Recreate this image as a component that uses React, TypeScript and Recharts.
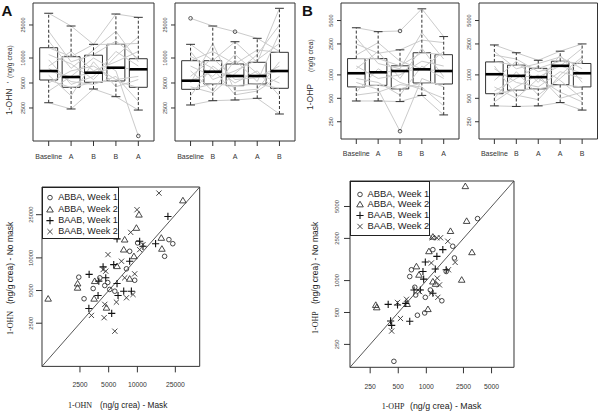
import React from 'react';
import {
  ComposedChart, ScatterChart, Scatter, Line, XAxis, YAxis,
  ReferenceArea, ReferenceLine, ReferenceDot, Legend,
} from 'recharts';

const FONT = "'Liberation Sans', Arial, sans-serif";
const SERIF = "'Liberation Serif', 'Times New Roman', serif";

// ---------- top row: box plots ----------
const ohnLabels1 = ['Baseline', 'A', 'B', 'B', 'A'];
const ohnLabels2 = ['Baseline', 'B', 'A', 'A', 'B'];
const ohpLabels1 = ['Baseline', 'A', 'B', 'B', 'A'];
const ohpLabels2 = ['Baseline', 'B', 'A', 'A', 'B'];

const ohnTicks = [2500, 5000, 10000, 25000];
const ohpTicks = [250, 500, 1000, 2500, 5000];

// [min, q1, median, q3, max]
const ohnBoxes1 = [
  [2890, 5430, 6970, 13300, 34600],
  [2430, 4435, 5900, 10370, 24300],
  [4235, 5100, 6650, 10800, 14620],
  [3420, 5285, 7640, 14620, 33900],
  [2360, 4435, 7310, 9800, 30900],
];
const ohnOutliers1 = [[5, 1150]];
const ohnSubjects1 = [
  [34600, 24300, 14600, 33900, 30900],
  [13300, 10400, 14600, 14600, 15000],
  [21000, 9000, 11000, 16000, 9800],
  [6970, 5900, 6650, 7640, 7310],
  [5430, 4400, 5100, 5300, 4400],
  [2890, 2430, 4240, 3420, 2360],
  [8000, 12000, 7000, 9000, 12000],
  [5000, 7000, 8000, 5500, 6000],
  [9500, 4800, 6000, 12000, 8000],
  [4000, 6000, 10000, 7000, 1150],
  [11000, 8500, 5500, 10500, 18000],
  [6200, 3500, 9000, 4500, 5500],
  [16000, 7500, 12500, 21000, 9000],
  [7500, 5200, 4800, 6000, 3000],
];

const ohnBoxes2 = [
  [2715, 4195, 5330, 9280, 14620],
  [3060, 4860, 6840, 9280, 24300],
  [3120, 4640, 6070, 8470, 15710],
  [3270, 4860, 6070, 8880, 17270],
  [2115, 4315, 6970, 11710, 39700],
];
const ohnOutliers2 = [[1, 30090], [3, 20750]];
const ohnSubjects2 = [
  [30090, 24300, 20750, 17270, 12000],
  [14620, 9300, 15710, 8880, 39700],
  [9280, 12000, 8470, 12500, 11710],
  [5330, 6840, 6070, 6070, 6970],
  [4200, 4860, 4640, 4860, 4315],
  [2715, 3060, 3120, 3270, 2115],
  [7000, 4000, 9500, 5200, 20000],
  [3500, 8000, 5000, 7000, 3500],
  [12000, 5500, 7000, 9500, 15000],
  [5000, 15000, 4000, 4200, 9000],
  [8000, 6000, 11000, 6500, 5000],
  [4500, 3800, 6500, 11000, 25000],
  [6000, 10000, 5500, 5800, 8000],
  [10500, 7500, 3600, 4000, 6000],
];

const ohpBoxes1 = [
  [462, 701, 1050, 1620, 4036],
  [462, 734, 1081, 1620, 3595],
  [454, 661, 1122, 1309, 2100],
  [545, 787, 1179, 1927, 7070],
  [306, 764, 1122, 1820, 3110],
];
const ohpOutliers1 = [[3, 3670], [3, 189]];
const ohpSubjects1 = [
  [4036, 3595, 3670, 7070, 3110],
  [1620, 1620, 1309, 1927, 1820],
  [1050, 1081, 1122, 1179, 1122],
  [701, 734, 661, 787, 764],
  [462, 462, 454, 545, 306],
  [800, 650, 189, 900, 700],
  [2500, 1900, 2100, 2800, 2600],
  [1300, 900, 1000, 1500, 1300],
  [600, 1200, 800, 650, 500],
  [1800, 2600, 1500, 1200, 2000],
  [900, 800, 550, 1300, 900],
  [3000, 1400, 1200, 3500, 1600],
  [550, 600, 750, 700, 400],
  [1200, 2000, 900, 2200, 950],
];

const ohpBoxes2 = [
  [400, 573, 1020, 1469, 2427],
  [393, 636, 972, 1335, 1927],
  [400, 661, 936, 1214, 1542],
  [441, 749, 1309, 1499, 2018],
  [353, 701, 1050, 1402, 2500],
];
const ohpOutliers2: number[][] = [];
const ohpSubjects2 = [
  [2427, 1927, 1542, 2018, 2500],
  [1469, 1335, 1214, 1499, 1402],
  [1020, 972, 936, 1309, 1050],
  [573, 636, 661, 749, 701],
  [400, 393, 400, 441, 353],
  [1800, 1600, 1100, 1300, 2200],
  [700, 500, 900, 600, 450],
  [1200, 800, 700, 1100, 900],
  [500, 1100, 550, 900, 1600],
  [2000, 1200, 1400, 1700, 1200],
  [450, 700, 1000, 500, 600],
  [850, 1500, 800, 1800, 800],
  [1300, 550, 480, 1000, 1700],
  [620, 900, 1300, 850, 500],
];

// ---------- bottom row: scatter (mask, no mask) ----------
const legendNames = ['ABBA, Week 1', 'ABBA, Week 2', 'BAAB, Week 1', 'BAAB, Week 2'];

const ohnAbbaW1 = [[2430, 6640], [2760, 4200], [3440, 5220], [4040, 6550], [4550, 5560], [5130, 5120], [5800, 4930], [8300, 11500], [9370, 6220], [7680, 7930], [19300, 10340], [21400, 14730], [23500, 13510], [4890, 5930], [10060, 13740]];
const ohnAbbaW2 = [[1160, 4200], [2360, 5800], [2360, 5300], [3570, 6100], [3520, 4200], [4740, 3470], [7360, 14730], [7190, 11920], [9770, 18880], [10390, 25000], [18070, 12110], [17820, 15280], [6120, 8380], [8300, 6410], [30000, 33800], [9200, 10340]];
const ohnBaabW1 = [[3120, 7040], [3940, 6100], [4370, 8260], [4660, 6550], [5650, 8670], [6120, 5800], [7190, 4930], [8650, 4930], [8300, 9310], [10570, 14220], [11450, 12790], [15520, 13510], [20900, 24080], [3870, 4500], [3100, 3420], [5380, 3080], [6120, 14960], [6270, 4500]];
const ohnBaabW2 = [[3300, 2950], [4480, 2810], [4550, 3730], [5800, 2110], [6030, 3910], [7680, 4290], [9000, 4600], [9370, 7130], [7360, 6550], [6810, 9310], [4920, 10720], [4660, 7540], [8510, 17180], [16830, 39540], [9910, 27800], [10570, 11920], [11450, 13250], [4370, 7800]];

const ohpAbbaW1 = [[449, 173], [802, 471], [960, 495], [1466, 645], [975, 695], [1103, 815], [692, 1265], [664, 1092], [2000, 1635], [3540, 3845], [752, 865], [1175, 1958], [1918, 2108], [1633, 1218], [769, 731]];
const ohpAbbaW2 = [[287, 588], [294, 558], [622, 600], [1040, 537], [1175, 978], [783, 1359], [834, 1133], [1066, 1888], [1175, 2588], [1815, 2930], [2704, 3646], [3083, 1848], [2393, 1016], [1256, 930], [2618, 7762]];
const ohpBaabW1 = [[414, 416], [425, 378], [390, 596], [491, 588], [602, 610], [664, 413], [738, 815], [863, 815], [920, 1218], [975, 1496], [936, 1031], [1175, 759], [1247, 1284], [1297, 1693], [1502, 1958], [1633, 1265]];
const ohpBaabW2 = [[425, 334], [528, 439], [491, 622], [613, 666], [849, 785], [1131, 759], [1328, 695], [1384, 910], [1310, 1054], [1726, 1265], [2036, 1484], [1698, 2350], [1159, 2535], [1297, 2535], [1419, 2535], [1131, 1466]];

// ---------- helpers ----------
const INK = '#333';

const RotTick = (props: any) => {
  const { x, y, payload, fs } = props;
  return (
    <text transform={`translate(${x},${y}) rotate(-90)`} x={0} y={0} textAnchor="middle"
      fontSize={fs} fill="#444" fontFamily={FONT}>{payload.value}</text>
  );
};

type Sym = 'circle' | 'triangle' | 'plus' | 'cross';
const symbolsOrder: Sym[] = ['circle', 'triangle', 'plus', 'cross'];

function drawSymbol(kind: Sym, cx: number, cy: number) {
  if (kind === 'circle') return <circle cx={cx} cy={cy} r={2.3} fill="none" stroke={INK} strokeWidth={0.9} />;
  if (kind === 'triangle') return <polygon points={`${cx},${cy - 3.2} ${cx - 3.3},${cy + 2.4} ${cx + 3.3},${cy + 2.4}`} fill="none" stroke={INK} strokeWidth={0.9} />;
  if (kind === 'plus') return <path d={`M${cx - 3.6},${cy}H${cx + 3.6}M${cx},${cy - 3.6}V${cy + 3.6}`} stroke="#111" strokeWidth={1.1} fill="none" />;
  return <path d={`M${cx - 2.6},${cy - 2.6}L${cx + 2.6},${cy + 2.6}M${cx + 2.6},${cy - 2.6}L${cx - 2.6},${cy + 2.6}`} stroke={INK} strokeWidth={0.9} fill="none" />;
}

type BoxPanelProps = {
  left: number; top: number; plotW: number; plotH: number;
  domain: [number, number]; ticks: number[]; labels: string[];
  boxes: number[][]; subjects: number[][]; outliers: number[][];
  xTickMargin: number;
};

function BoxPanel(p: BoxPanelProps) {
  const { left, top, plotW, plotH, domain, ticks, labels, boxes, subjects, outliers, xTickMargin } = p;
  const data = labels.map((_, i) => {
    const row: Record<string, number> = { x: i + 1 };
    subjects.forEach((s, k) => { row['s' + k] = s[i]; });
    return row;
  });
  const yW = 20, ml = 10, mr = 4, mt = 3, xH = 26;
  const xDom: [number, number] = [0.3, 5.7];
  return (
    <div style={{ position: 'absolute', left: left - yW - ml, top: top - mt }}>
      <ComposedChart width={yW + ml + plotW + mr} height={mt + plotH + xH} data={data}
        margin={{ top: mt, left: ml, right: mr, bottom: 0 }}>
        <XAxis dataKey="x" type="number" domain={xDom} ticks={[1, 2, 3, 4, 5]} allowDataOverflow interval={0}
          tickFormatter={(v: number) => labels[v - 1]} axisLine={false} tickSize={5} tickMargin={xTickMargin}
          tick={{ fontSize: 7, fill: '#333', fontFamily: FONT }} tickLine={{ stroke: INK }} height={xH} />
        <YAxis type="number" scale="log" domain={domain} allowDataOverflow ticks={ticks} interval={0} width={yW}
          axisLine={false} tickSize={4} tickMargin={4} tickLine={{ stroke: INK }}
          tick={(tp: any) => <RotTick {...tp} fs={5.5} />} />
        {subjects.map((_, k) => (
          <Line key={'s' + k} dataKey={'s' + k} type="linear" stroke="#cbcbcb" strokeWidth={1}
            dot={false} activeDot={false} isAnimationActive={false} />
        ))}
        {boxes.map(([mn, q1, md, q3, mx], i) => {
          const c = i + 1;
          return [
            <ReferenceLine key={'wu' + i} segment={[{ x: c, y: q3 }, { x: c, y: mx }]} stroke={INK} strokeDasharray="3 2" />,
            <ReferenceLine key={'wl' + i} segment={[{ x: c, y: mn }, { x: c, y: q1 }]} stroke={INK} strokeDasharray="3 2" />,
            <ReferenceLine key={'cu' + i} segment={[{ x: c - 0.2, y: mx }, { x: c + 0.2, y: mx }]} stroke={INK} />,
            <ReferenceLine key={'cl' + i} segment={[{ x: c - 0.2, y: mn }, { x: c + 0.2, y: mn }]} stroke={INK} />,
            <ReferenceArea key={'b' + i} x1={c - 0.4} x2={c + 0.4} y1={q1} y2={q3} fill="none" fillOpacity={0} stroke={INK} strokeWidth={1} />,
            <ReferenceLine key={'m' + i} segment={[{ x: c - 0.4, y: md }, { x: c + 0.4, y: md }]} stroke="#000" strokeWidth={2.6} />,
          ];
        })}
        {outliers.map(([c, v], i) => (
          <ReferenceDot key={'o' + i} x={c} y={v} r={1.8} fill="none" stroke="#444" strokeWidth={0.9} />
        ))}
        <ReferenceArea x1={xDom[0]} x2={xDom[1]} y1={domain[0]} y2={domain[1]} fill="none" fillOpacity={0} stroke={INK} strokeWidth={1} />
      </ComposedChart>
    </div>
  );
}

type ScatterPanelProps = {
  left: number; top: number; plotW: number; plotH: number;
  domain: [number, number]; ticks: number[]; series: number[][][];
  xTickMargin: number; yTickMargin: number;
  legendW: number; legendH: number; legendFs: number; legendRowH: number; legendPadTop: number; legendSymX: number; legendTextX: number;
};

function ScatterPanel(p: ScatterPanelProps) {
  const { left, top, plotW, plotH, domain, ticks, series, xTickMargin, yTickMargin } = p;
  const yW = 20, ml = 10, mr = 4, mt = 4, xH = 28;
  const legendContent = () => (
    <div style={{ width: p.legendW, height: p.legendH, boxSizing: 'border-box', border: '1px solid #222', background: '#fff', paddingTop: p.legendPadTop, fontFamily: FONT, fontSize: p.legendFs, color: '#222' }}>
      {legendNames.map((n, i) => (
        <div key={n} style={{ position: 'relative', height: p.legendRowH, lineHeight: p.legendRowH + 'px', whiteSpace: 'nowrap' }}>
          <svg width={12} height={p.legendRowH} style={{ position: 'absolute', left: p.legendSymX - 6, top: 0 }}>
            {drawSymbol(symbolsOrder[i], 6, p.legendRowH / 2)}
          </svg>
          <span style={{ position: 'absolute', left: p.legendTextX }}>{n}</span>
        </div>
      ))}
    </div>
  );
  return (
    <div style={{ position: 'absolute', left: left - yW - ml, top: top - mt }}>
      <ScatterChart width={yW + ml + plotW + mr} height={mt + plotH + xH} margin={{ top: mt, left: ml, right: mr, bottom: 0 }}>
        <XAxis dataKey="x" type="number" scale="log" domain={domain} allowDataOverflow ticks={ticks} interval={0}
          axisLine={false} tickSize={6} tickMargin={xTickMargin} tickLine={{ stroke: INK }} height={xH}
          tick={{ fontSize: 6.8, fill: '#333', fontFamily: FONT }} />
        <YAxis dataKey="y" type="number" scale="log" domain={domain} allowDataOverflow ticks={ticks} interval={0} width={yW}
          axisLine={false} tickSize={6} tickMargin={yTickMargin} tickLine={{ stroke: INK }}
          tick={(tp: any) => <RotTick {...tp} fs={5.8} />} />
        <ReferenceLine segment={[{ x: domain[0], y: domain[0] }, { x: domain[1], y: domain[1] }]} stroke="#444" strokeWidth={0.9} />
        {series.map((pts, i) => (
          <Scatter key={legendNames[i]} name={legendNames[i]} data={pts.map(([x, y]) => ({ x, y }))}
            isAnimationActive={false}
            shape={(sp: any) => drawSymbol(symbolsOrder[i], sp.cx, sp.cy)} />
        ))}
        <ReferenceArea x1={domain[0]} x2={domain[1]} y1={domain[0]} y2={domain[1]} fill="none" fillOpacity={0} stroke={INK} strokeWidth={1} />
        <Legend layout="vertical" align="center" verticalAlign="middle" content={legendContent}
          wrapperStyle={{ left: yW + ml, top: mt, width: p.legendW, height: p.legendH }} />
      </ScatterChart>
    </div>
  );
}

export default function App() {
  return (
    <div style={{ position: 'absolute', left: 0, top: 0, width: 600, height: 414, background: '#fff', overflow: 'hidden' }}>
      <BoxPanel left={33} top={3} plotW={121} plotH={138} domain={[1000, 46000]} ticks={ohnTicks}
        labels={ohnLabels1} boxes={ohnBoxes1} subjects={ohnSubjects1} outliers={ohnOutliers1} xTickMargin={8} />
      <BoxPanel left={175} top={3} plotW={120} plotH={138} domain={[1000, 46000]} ticks={ohnTicks}
        labels={ohnLabels2} boxes={ohnBoxes2} subjects={ohnSubjects2} outliers={ohnOutliers2} xTickMargin={8} />
      <BoxPanel left={340.5} top={3} plotW={118} plotH={136} domain={[150, 8400]} ticks={ohpTicks}
        labels={ohpLabels1} boxes={ohpBoxes1} subjects={ohpSubjects1} outliers={ohpOutliers1} xTickMargin={7} />
      <BoxPanel left={479} top={3} plotW={118.5} plotH={136} domain={[150, 8400]} ticks={ohpTicks}
        labels={ohpLabels2} boxes={ohpBoxes2} subjects={ohpSubjects2} outliers={ohpOutliers2} xTickMargin={7} />

      <ScatterPanel left={42.3} top={187.3} plotW={157.7} plotH={179.4} domain={[1000, 45000]} ticks={ohnTicks}
        series={[ohnAbbaW1, ohnAbbaW2, ohnBaabW1, ohnBaabW2]} xTickMargin={9.5} yTickMargin={3.3}
        legendW={77} legendH={52} legendFs={9} legendRowH={11.2} legendPadTop={4.2} legendSymX={7} legendTextX={15} />
      <ScatterPanel left={350} top={181} plotW={164} plotH={186.3} domain={[152, 8700]} ticks={ohpTicks}
        series={[ohpAbbaW1, ohpAbbaW2, ohpBaabW1, ohpBaabW2]} xTickMargin={10.5} yTickMargin={5}
        legendW={79.5} legendH={54.7} legendFs={9.4} legendRowH={10.9} legendPadTop={6.5} legendSymX={8.5} legendTextX={16.5} />

      <svg width={600} height={414} style={{ position: 'absolute', left: 0, top: 0, pointerEvents: 'none' }}>
        <text x={1.5} y={15.5} fontSize={15} fontWeight="bold" fontFamily={FONT} fill="#111">A</text>
        <text x={302} y={15.5} fontSize={15} fontWeight="bold" fontFamily={FONT} fill="#111">B</text>

        <g transform="translate(11.5,115) rotate(-90)" fill="#333" fontFamily={FONT}>
          <text x={0} y={0} fontSize={8.5}>1-OHN</text>
          <text x={32} y={0} fontSize={7}>'</text>
          <text x={37} y={0} fontSize={6.8}>(ng/g crea)</text>
        </g>
        <g transform="translate(312.5,110) rotate(-90)" fill="#333" fontFamily={FONT}>
          <text x={0} y={0} fontSize={8.5}>1-OHP</text>
          <text x={38} y={0} fontSize={6.8}>(ng/g crea)</text>
        </g>

        <g transform="translate(12.5,335) rotate(-90)" fill="#222">
          <text x={0} y={0} fontSize={8} fontFamily={SERIF}>1-OHN</text>
          <text x={31} y={0} fontSize={8.5} fontFamily={FONT}>(ng/g crea) - No mask</text>
        </g>
        <g transform="translate(317.5,334) rotate(-90)" fill="#222">
          <text x={0} y={0} fontSize={8} fontFamily={SERIF}>1-OHP</text>
          <text x={30} y={0} fontSize={8.5} fontFamily={FONT}>(ng/g crea) - No mask</text>
        </g>

        <text x={68} y={408} fontSize={8} fontFamily={SERIF} fill="#222">1-OHN</text>
        <text x={100} y={408} fontSize={8.3} fontFamily={FONT} fill="#222">(ng/g crea) - Mask</text>
        <text x={381.7} y={409} fontSize={8} fontFamily={SERIF} fill="#222">1-OHP</text>
        <text x={410} y={409} fontSize={8.8} fontFamily={FONT} fill="#222">(ng/g crea) - Mask</text>
      </svg>
    </div>
  );
}
